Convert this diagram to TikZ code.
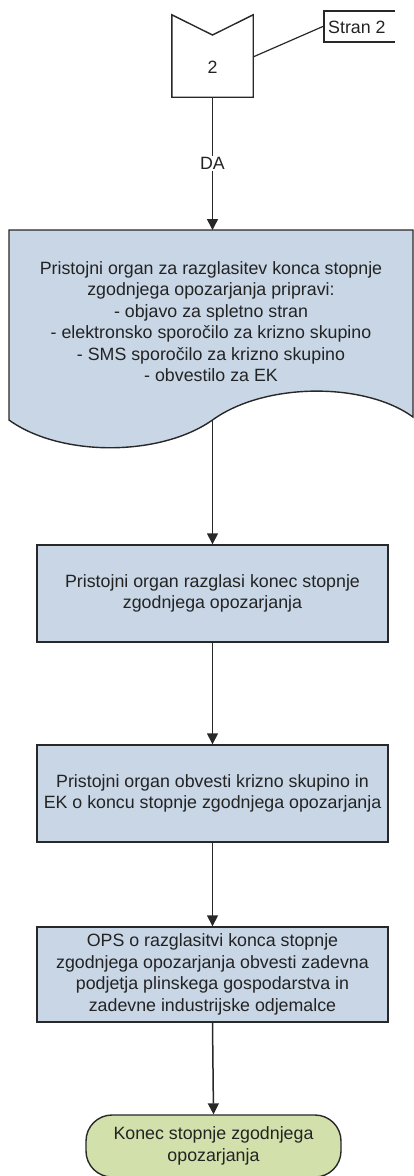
\documentclass[tikz,border=0pt]{standalone}
\usepackage{fontspec}
\setmainfont{Liberation Sans}
\usetikzlibrary{arrows.meta}
\definecolor{boxblue}{RGB}{200,214,230}
\definecolor{termgreen}{RGB}{210,224,172}
\definecolor{txt}{RGB}{35,35,35}
\definecolor{edge}{RGB}{40,40,40}
\tikzset{
  base/.style={font=\fontsize{17.8}{21.5}\selectfont, text=txt, align=center},
  procbox/.style={base, draw=edge, line width=1.4pt, fill=boxblue, minimum width=351pt, inner sep=0pt},
  termbox/.style={base, draw=edge, line width=1.4pt, fill=termgreen, rounded corners=26pt, minimum width=255pt, minimum height=62pt, inner sep=0pt},
  outline/.style={draw=edge, line width=1.4pt},
  flow/.style={draw=edge, line width=1.5pt, -{Triangle[length=11pt,width=11pt]}},
  plain/.style={draw=edge, line width=1.2pt}
}
\begin{document}
\begin{tikzpicture}[x=1pt,y=-1pt]
\useasboundingbox (0,0) rectangle (414,1176);
% off-page connector
\node[minimum width=81pt, minimum height=82pt, inner sep=0pt] (conn) at (212.5,56) {};
\draw[outline] (conn.north west) -- (212.5,35) -- (conn.north east) -- (conn.south east) -- (conn.south west) -- cycle;
\node[base] (two) at (212.5,67) {2};
% annotation
\node[base, anchor=west, inner sep=0pt] (stran) at (328,27) {Stran 2};
\draw[plain] (395,11) -- (324,11) -- (324,42) -- (395,42);
\coordinate (annL) at (324,26);
\coordinate (connR) at (253,57);
\draw[plain] (connR) -- (annL);
% document shape
\coordinate (docT) at (212.5,230);
\coordinate (docB) at (212.5,420);
\filldraw[outline, fill=boxblue] (9,420) -- (9,230) -- (413,230) -- (413,417)
  .. controls (365,382) and (265,382) .. (212.5,420)
  .. controls (160,457) and (60,457) .. (9,420) -- cycle;
\node[base] (doc) at (211,321.5) {Pristojni organ za razglasitev konca stopnje\\zgodnjega opozarjanja pripravi:\\- objavo za spletno stran\\- elektronsko sporočilo za krizno skupino\\- SMS sporočilo za krizno skupino\\- obvestilo za EK};
% process boxes
\node[procbox, minimum height=97pt] (b2) at (212.5,593.5) {Pristojni organ razglasi konec stopnje\\zgodnjega opozarjanja};
\node[procbox, minimum height=97pt] (b3) at (212.5,793.5) {Pristojni organ obvesti krizno skupino in\\EK o koncu stopnje zgodnjega opozarjanja};
\node[procbox, minimum height=95pt] (b4) at (212.5,974.5) {OPS o razglasitvi konca stopnje\\zgodnjega opozarjanja obvesti zadevna\\podjetja plinskega gospodarstva in\\zadevne industrijske odjemalce};
\node[termbox] (end) at (213.5,1146) {Konec stopnje zgodnjega\\opozarjanja};
% connectors
\draw[flow] (conn.south) -- node[base, fill=white, inner sep=1pt] (da) {DA} (docT);
\draw[flow] (docB) -- (b2.north);
\draw[flow] (b2.south) -- (b3.north);
\draw[flow] (b3.south) -- (b4.north);
\draw[flow] (b4.south) -- (end.north);
\end{tikzpicture}
\end{document}
